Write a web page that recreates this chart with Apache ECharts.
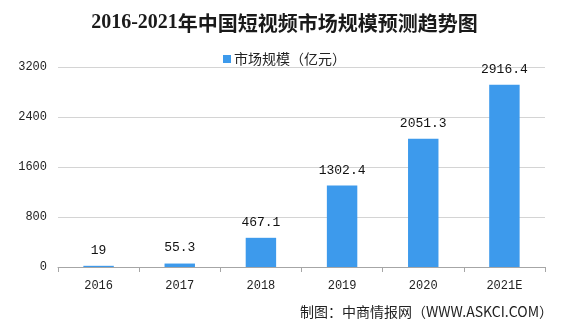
<!DOCTYPE html>
<html>
<head>
<meta charset="utf-8">
<script src="https://cdn.jsdelivr.net/npm/echarts@6/dist/echarts.min.js"></script>
<style>
html,body{margin:0;padding:0;background:#fff;}
#chart{width:569px;height:320px;}
</style>
</head>
<body>
<div id="chart"></div>
<script>
var categories = ['2016', '2017', '2018', '2019', '2020', '2021E'];
var marketSize = [19, 55.3, 467.1, 1302.4, 2051.3, 2916.4];
var yTicks = [0, 800, 1600, 2400, 3200];
var titleYears = '2016-2021';
var titleRest = '年中国短视频市场规模预测趋势图';
var seriesName = '市场规模（亿元）';
var sourceText = '制图：中商情报网（WWW.ASKCI.COM）';

var chart = echarts.init(document.getElementById('chart'));
chart.setOption({
  backgroundColor: '#ffffff',
  animation: false,
  title: {
    text: '{a|' + titleYears + '}{b|' + titleRest + '}',
    left: 'center',
    top: 8,
    textStyle: {
      rich: {
        a: { fontFamily: 'Liberation Serif', fontSize: 20, fontWeight: 'bold', color: '#1a1a1a' },
        b: { fontFamily: 'Noto Sans CJK SC', fontSize: 20, fontWeight: 'bold', color: '#1a1a1a' }
      }
    }
  },
  legend: {
    data: [seriesName],
    top: 47,
    left: 'center',
    itemWidth: 8,
    itemHeight: 8,
    icon: 'rect',
    itemGap: 10,
    textStyle: { fontFamily: 'Noto Sans CJK SC', fontSize: 14, color: '#222', padding: [0,0,0,-2] }
  },
  graphic: [{
    type: 'text',
    left: 300,
    top: 305,
    style: { text: sourceText, font: '14px "Noto Sans CJK SC"', fill: '#222' }
  }],
  grid: { left: 58, right: 24, top: 67, bottom: 53 },
  xAxis: {
    type: 'category',
    data: categories,
    axisLine: { lineStyle: { color: '#a6a6a6', width: 1 } },
    axisTick: { show: true, length: 5, lineStyle: { color: '#a6a6a6' } },
    axisLabel: { fontFamily: 'Liberation Mono', fontSize: 12, color: '#222', margin: 13 }
  },
  yAxis: {
    type: 'value',
    min: yTicks[0],
    max: yTicks[yTicks.length - 1],
    interval: yTicks[1] - yTicks[0],
    axisLine: { show: false },
    axisTick: { show: false },
    splitLine: { lineStyle: { color: '#d4d4d4', width: 1 } },
    axisLabel: {
      fontFamily: 'Liberation Mono', fontSize: 12, color: '#222', margin: 11,
      formatter: function (v) { return String(v); }
    }
  },
  series: [{
    name: seriesName,
    type: 'bar',
    data: marketSize,
    barWidth: '37.5%',
    itemStyle: { color: '#3d9aec' },
    label: {
      show: true,
      position: 'top',
      distance: 9,
      fontFamily: 'Liberation Mono',
      fontSize: 13,
      color: '#111'
    }
  }]
});
</script>
</body>
</html>
